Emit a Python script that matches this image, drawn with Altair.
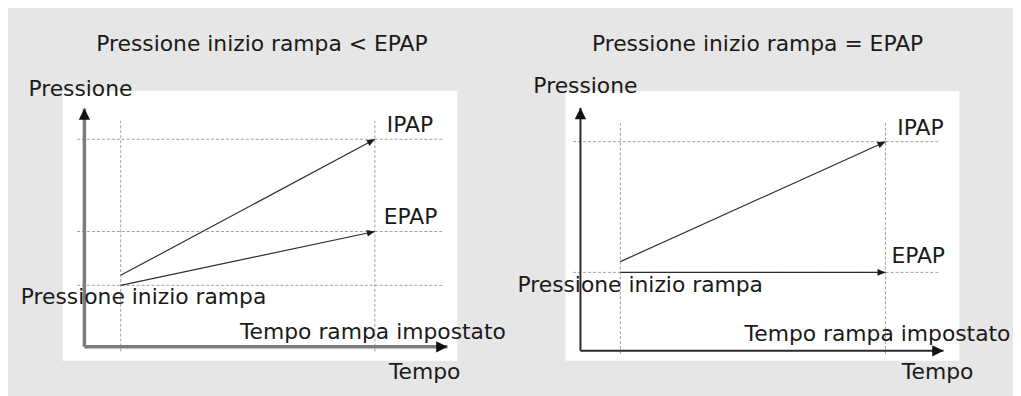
import math
import altair as alt
import pandas as pd

# ---------------- data (schematic units: time / pressure) ----------------
panel_titles = ["Pressione inizio rampa < EPAP", "Pressione inizio rampa = EPAP"]
ramp_start_time = [1.0, 1.1]
ramp_end_time = [8.0, 8.4]
time_axis_end = [10.0, 10.0]
start_pressure = [4.0, 5.1]
epap_pressure = [7.5, 5.1]
ipap_pressure = [13.5, 13.6]
ipap_ramp_origin = [4.65, 5.8]
pressure_axis_end = [15.5, 15.8]
frame_time = [[-0.6, 10.27], [-0.41, 10.44]]
frame_pressure = [[-0.9, 16.65], [-0.65, 16.9]]
guide_time = [[-0.2, 9.9], [-0.2, 9.9]]
guide_pressure = [[-0.3, 14.7], [-0.2, 14.8]]

label_ipap = "IPAP"
label_epap = "EPAP"
label_start = "Pressione inizio rampa"
label_ramp_time = "Tempo rampa impostato"
label_x = "Tempo"
label_y = "Pressione"

# ---------------- styles ----------------
W, H = 1013, 388
BG = "#e6e6e6"
FONT = "DejaVu Sans"
FS = 22
TEXT_COLOR = "#1a1a1a"
T_DOMAIN = [0, 10]
P_DOMAIN = [0, 16]

panel_styles = [
    dict(x_range=[77, 443], y_range=[340, 92], axis_color="#7c7c7c", axis_width=3.5,
         off=dict(ipap=(12, -14), epap=(9, -15), start=(23, 12), ramp=(-2, -15),
                  xlab=(-23, 25), ylab=(-4, -20), title=(2, -47))),
    dict(x_range=[577, 943], y_range=[344, 96], axis_color="#2a2a2a", axis_width=2,
         off=dict(ipap=(12, -14), epap=(6, -16), start=(20, 13), ramp=(-8, -17),
                  xlab=(-6, 21), ylab=(5, -22), title=(-5, -47))),
]

AXIS_ARROW = "M0,0L-1,-0.5L-1,0.5Z"
LINE_ARROW = "M0,0L-1,-0.42L-1,0.42Z"


def xs(st, field="t"):
    return alt.X(f"{field}:Q", scale=alt.Scale(domain=T_DOMAIN, range=st["x_range"]), axis=None)


def ys(st, field="p"):
    return alt.Y(f"{field}:Q", scale=alt.Scale(domain=P_DOMAIN, range=st["y_range"]), axis=None)


def angle_of(st, t0, p0, t1, p1):
    pxt = (st["x_range"][1] - st["x_range"][0]) / (T_DOMAIN[1] - T_DOMAIN[0])
    pxp = (st["y_range"][0] - st["y_range"][1]) / (P_DOMAIN[1] - P_DOMAIN[0])
    dx = (t1 - t0) * pxt
    dy = -(p1 - p0) * pxp
    return math.degrees(math.atan2(dy, dx)) % 360


layers = []
for i, st in enumerate(panel_styles):
    ts, te = ramp_start_time[i], ramp_end_time[i]
    # white frame
    frame = pd.DataFrame({"t": [frame_time[i][0]], "t2": [frame_time[i][1]],
                          "p": [frame_pressure[i][0]], "p2": [frame_pressure[i][1]]})
    layers.append(alt.Chart(frame).mark_rect(color="white").encode(
        x=xs(st), x2="t2:Q", y=ys(st), y2="p2:Q"))

    # dashed guides
    levels = sorted(set([start_pressure[i], epap_pressure[i], ipap_pressure[i]]))
    hg = pd.DataFrame({"t": [guide_time[i][0]] * len(levels),
                       "t2": [guide_time[i][1]] * len(levels),
                       "p": levels})
    layers.append(alt.Chart(hg).mark_rule(color="#a0a0a0", strokeWidth=1, strokeDash=[3, 2]).encode(
        x=xs(st), x2="t2:Q", y=ys(st)))
    vg = pd.DataFrame({"t": [ts, te],
                       "p": [guide_pressure[i][0]] * 2,
                       "p2": [guide_pressure[i][1]] * 2})
    layers.append(alt.Chart(vg).mark_rule(color="#a0a0a0", strokeWidth=1, strokeDash=[3, 2]).encode(
        x=xs(st), y=ys(st), y2="p2:Q"))

    # axes
    ax = pd.DataFrame({"t": [0, 0], "p": [0, 0],
                       "t2": [time_axis_end[i], 0], "p2": [0, pressure_axis_end[i]]})
    layers.append(alt.Chart(ax).mark_rule(color=st["axis_color"], strokeWidth=st["axis_width"]).encode(
        x=xs(st), x2="t2:Q", y=ys(st), y2="p2:Q"))
    axh = pd.DataFrame({"t": [time_axis_end[i], 0], "p": [0, pressure_axis_end[i]],
                        "angle": [0, 270]})
    layers.append(alt.Chart(axh).mark_point(shape=AXIS_ARROW, filled=True, size=520,
                                            color="#111111", opacity=1, strokeWidth=0).encode(
        x=xs(st), y=ys(st), angle=alt.Angle("angle:Q", scale=None)))

    # ramps
    ramps = pd.DataFrame({"t": [ts, ts], "p": [ipap_ramp_origin[i], start_pressure[i]],
                          "t2": [te, te], "p2": [ipap_pressure[i], epap_pressure[i]]})
    ramps["angle"] = [angle_of(st, r.t, r.p, r.t2, r.p2) for r in ramps.itertuples()]
    layers.append(alt.Chart(ramps).mark_rule(color="#2e2e2e", strokeWidth=1.2).encode(
        x=xs(st), x2="t2:Q", y=ys(st), y2="p2:Q"))
    heads = pd.DataFrame({"t": ramps["t2"], "p": ramps["p2"], "angle": ramps["angle"]})
    layers.append(alt.Chart(heads).mark_point(shape=LINE_ARROW, filled=True, size=256,
                                              color="#1a1a1a", opacity=1, strokeWidth=0).encode(
        x=xs(st), y=ys(st), angle=alt.Angle("angle:Q", scale=None)))

    # labels
    o = st["off"]
    lab_defs = [
        (label_ipap, te, ipap_pressure[i], "left", o["ipap"]),
        (label_epap, te, epap_pressure[i], "left", o["epap"]),
        (label_start, ts, start_pressure[i], "center", o["start"]),
        (label_ramp_time, te, 0, "center", o["ramp"]),
        (label_x, time_axis_end[i], 0, "center", o["xlab"]),
        (label_y, 0, pressure_axis_end[i], "center", o["ylab"]),
        (panel_titles[i], (frame_time[i][0] + frame_time[i][1]) / 2, frame_pressure[i][1], "center", o["title"]),
    ]
    for txt, t, p, align, (dx, dy) in lab_defs:
        d = pd.DataFrame({"t": [t], "p": [p], "label": [txt]})
        layers.append(alt.Chart(d).mark_text(align=align, baseline="middle", dx=dx, dy=dy,
                                             font=FONT, fontSize=FS, color=TEXT_COLOR).encode(
            x=xs(st), y=ys(st), text="label:N"))

chart = alt.layer(*layers).resolve_scale(x="independent", y="independent").properties(
    width=W, height=H, background=BG, padding=0, autosize="none"
).configure_view(stroke=None, fill=BG)

chart.save("out.html", embed_options={"renderer": "svg", "actions": False})
